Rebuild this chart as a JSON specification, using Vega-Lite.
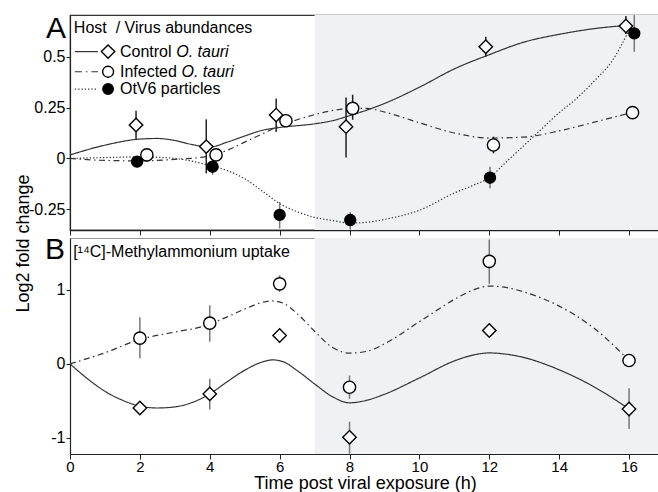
{
  "$schema": "https://vega.github.io/schema/vega-lite/v6.json",
  "padding": {"left": 13, "top": 13, "right": 0, "bottom": 0},
  "background": "white",
  "spacing": 8,
  "bounds": "flush",
  "config": {
    "font": "Liberation Sans",
    "axis": {"labelFont": "Liberation Sans", "titleFont": "Liberation Sans", "labelColor": "black", "titleColor": "black", "domainColor": "#222", "tickColor": "#222", "grid": false, "titleFontWeight": "normal", "labelFlush": false},
    "text": {"font": "Liberation Sans", "color": "black"}
  },
  "datasets": {
    "points": [
      {"panel": "A", "series": "Control", "x": 1.89, "y": 0.164, "lo": 0.095, "hi": 0.234},
      {"panel": "A", "series": "Control", "x": 3.9, "y": 0.058, "lo": -0.074, "hi": 0.192},
      {"panel": "A", "series": "Control", "x": 5.9, "y": 0.213, "lo": 0.13, "hi": 0.295},
      {"panel": "A", "series": "Control", "x": 7.9, "y": 0.156, "lo": 0.005, "hi": 0.3},
      {"panel": "A", "series": "Control", "x": 11.9, "y": 0.549, "lo": 0.5, "hi": 0.598},
      {"panel": "A", "series": "Control", "x": 15.91, "y": 0.651, "lo": 0.612, "hi": 0.7},
      {"panel": "A", "series": "Infected", "x": 2.2, "y": 0.017, "lo": 0.007, "hi": 0.027},
      {"panel": "A", "series": "Infected", "x": 4.18, "y": 0.017, "lo": 0.007, "hi": 0.027},
      {"panel": "A", "series": "Infected", "x": 6.18, "y": 0.185, "lo": 0.175, "hi": 0.195},
      {"panel": "A", "series": "Infected", "x": 8.09, "y": 0.246, "lo": 0.19, "hi": 0.313},
      {"panel": "A", "series": "Infected", "x": 12.12, "y": 0.066, "lo": 0.025, "hi": 0.107},
      {"panel": "A", "series": "Infected", "x": 16.1, "y": 0.225, "lo": 0.215, "hi": 0.235},
      {"panel": "A", "series": "OtV6", "x": 1.92, "y": -0.016, "lo": -0.026, "hi": -0.006},
      {"panel": "A", "series": "OtV6", "x": 4.08, "y": -0.041, "lo": -0.08, "hi": -0.006},
      {"panel": "A", "series": "OtV6", "x": 6.0, "y": -0.278, "lo": -0.344, "hi": -0.213},
      {"panel": "A", "series": "OtV6", "x": 8.02, "y": -0.303, "lo": -0.35, "hi": -0.265},
      {"panel": "A", "series": "OtV6", "x": 12.02, "y": -0.095, "lo": -0.147, "hi": -0.041},
      {"panel": "A", "series": "OtV6", "x": 16.15, "y": 0.615, "lo": 0.524, "hi": 0.705},
      {"panel": "B", "series": "Control", "x": 2, "y": -0.595, "lo": -0.595, "hi": -0.595},
      {"panel": "B", "series": "Control", "x": 4, "y": -0.405, "lo": -0.616, "hi": -0.2},
      {"panel": "B", "series": "Control", "x": 6, "y": 0.384, "lo": 0.384, "hi": 0.384},
      {"panel": "B", "series": "Control", "x": 8, "y": -0.99, "lo": -1.21, "hi": -0.78},
      {"panel": "B", "series": "Control", "x": 12, "y": 0.451, "lo": 0.451, "hi": 0.451},
      {"panel": "B", "series": "Control", "x": 16, "y": -0.608, "lo": -0.88, "hi": -0.33},
      {"panel": "B", "series": "Infected", "x": 2, "y": 0.347, "lo": 0.077, "hi": 0.63},
      {"panel": "B", "series": "Infected", "x": 4, "y": 0.55, "lo": 0.3, "hi": 0.79},
      {"panel": "B", "series": "Infected", "x": 6, "y": 1.08, "lo": 0.97, "hi": 1.195},
      {"panel": "B", "series": "Infected", "x": 8, "y": -0.315, "lo": -0.47, "hi": -0.157},
      {"panel": "B", "series": "Infected", "x": 12, "y": 1.384, "lo": 1.08, "hi": 1.68},
      {"panel": "B", "series": "Infected", "x": 16, "y": 0.046, "lo": 0.046, "hi": 0.046}
    ],
    "curves": [
      {"panel": "A", "series": "Control", "x": 0, "y": 0.017},
      {"panel": "A", "series": "Control", "x": 1, "y": 0.065},
      {"panel": "A", "series": "Control", "x": 2, "y": 0.095},
      {"panel": "A", "series": "Control", "x": 2.5, "y": 0.098},
      {"panel": "A", "series": "Control", "x": 3, "y": 0.088},
      {"panel": "A", "series": "Control", "x": 3.5, "y": 0.068},
      {"panel": "A", "series": "Control", "x": 4, "y": 0.056},
      {"panel": "A", "series": "Control", "x": 4.5, "y": 0.08},
      {"panel": "A", "series": "Control", "x": 5, "y": 0.11},
      {"panel": "A", "series": "Control", "x": 5.5, "y": 0.138},
      {"panel": "A", "series": "Control", "x": 6, "y": 0.152},
      {"panel": "A", "series": "Control", "x": 7, "y": 0.17},
      {"panel": "A", "series": "Control", "x": 7.5, "y": 0.185},
      {"panel": "A", "series": "Control", "x": 8, "y": 0.21},
      {"panel": "A", "series": "Control", "x": 9, "y": 0.27},
      {"panel": "A", "series": "Control", "x": 10, "y": 0.35},
      {"panel": "A", "series": "Control", "x": 11, "y": 0.44},
      {"panel": "A", "series": "Control", "x": 12, "y": 0.51},
      {"panel": "A", "series": "Control", "x": 13, "y": 0.572},
      {"panel": "A", "series": "Control", "x": 14, "y": 0.61},
      {"panel": "A", "series": "Control", "x": 15, "y": 0.638},
      {"panel": "A", "series": "Control", "x": 16, "y": 0.655},
      {"panel": "A", "series": "Infected", "x": 0, "y": 0},
      {"panel": "A", "series": "Infected", "x": 1, "y": -0.01},
      {"panel": "A", "series": "Infected", "x": 2, "y": -0.012},
      {"panel": "A", "series": "Infected", "x": 3, "y": -0.005},
      {"panel": "A", "series": "Infected", "x": 4, "y": 0.012},
      {"panel": "A", "series": "Infected", "x": 4.5, "y": 0.04},
      {"panel": "A", "series": "Infected", "x": 5, "y": 0.08},
      {"panel": "A", "series": "Infected", "x": 5.5, "y": 0.12},
      {"panel": "A", "series": "Infected", "x": 6, "y": 0.16},
      {"panel": "A", "series": "Infected", "x": 6.5, "y": 0.19},
      {"panel": "A", "series": "Infected", "x": 7, "y": 0.215},
      {"panel": "A", "series": "Infected", "x": 7.5, "y": 0.235},
      {"panel": "A", "series": "Infected", "x": 8, "y": 0.245},
      {"panel": "A", "series": "Infected", "x": 8.5, "y": 0.246},
      {"panel": "A", "series": "Infected", "x": 9, "y": 0.228},
      {"panel": "A", "series": "Infected", "x": 10, "y": 0.175},
      {"panel": "A", "series": "Infected", "x": 11, "y": 0.125},
      {"panel": "A", "series": "Infected", "x": 12, "y": 0.1},
      {"panel": "A", "series": "Infected", "x": 13, "y": 0.105},
      {"panel": "A", "series": "Infected", "x": 14, "y": 0.135},
      {"panel": "A", "series": "Infected", "x": 15, "y": 0.178},
      {"panel": "A", "series": "Infected", "x": 16, "y": 0.222},
      {"panel": "A", "series": "OtV6", "x": 0, "y": 0},
      {"panel": "A", "series": "OtV6", "x": 1, "y": 0.004},
      {"panel": "A", "series": "OtV6", "x": 2, "y": 0.008},
      {"panel": "A", "series": "OtV6", "x": 3, "y": 0.0},
      {"panel": "A", "series": "OtV6", "x": 4, "y": -0.035},
      {"panel": "A", "series": "OtV6", "x": 4.5, "y": -0.06},
      {"panel": "A", "series": "OtV6", "x": 5, "y": -0.1},
      {"panel": "A", "series": "OtV6", "x": 5.5, "y": -0.16},
      {"panel": "A", "series": "OtV6", "x": 6, "y": -0.222},
      {"panel": "A", "series": "OtV6", "x": 6.5, "y": -0.262},
      {"panel": "A", "series": "OtV6", "x": 7, "y": -0.29},
      {"panel": "A", "series": "OtV6", "x": 7.5, "y": -0.305},
      {"panel": "A", "series": "OtV6", "x": 8, "y": -0.318},
      {"panel": "A", "series": "OtV6", "x": 8.5, "y": -0.314},
      {"panel": "A", "series": "OtV6", "x": 9, "y": -0.3},
      {"panel": "A", "series": "OtV6", "x": 10, "y": -0.255},
      {"panel": "A", "series": "OtV6", "x": 11, "y": -0.17},
      {"panel": "A", "series": "OtV6", "x": 11.5, "y": -0.135},
      {"panel": "A", "series": "OtV6", "x": 12, "y": -0.095},
      {"panel": "A", "series": "OtV6", "x": 12.5, "y": -0.015},
      {"panel": "A", "series": "OtV6", "x": 13, "y": 0.065},
      {"panel": "A", "series": "OtV6", "x": 13.5, "y": 0.145},
      {"panel": "A", "series": "OtV6", "x": 14, "y": 0.225},
      {"panel": "A", "series": "OtV6", "x": 14.5, "y": 0.295},
      {"panel": "A", "series": "OtV6", "x": 15, "y": 0.38},
      {"panel": "A", "series": "OtV6", "x": 15.5, "y": 0.475},
      {"panel": "A", "series": "OtV6", "x": 16, "y": 0.63},
      {"panel": "B", "series": "Control", "x": 0, "y": 0},
      {"panel": "B", "series": "Control", "x": 0.5, "y": -0.2},
      {"panel": "B", "series": "Control", "x": 1, "y": -0.37},
      {"panel": "B", "series": "Control", "x": 1.5, "y": -0.49},
      {"panel": "B", "series": "Control", "x": 2, "y": -0.57},
      {"panel": "B", "series": "Control", "x": 2.5, "y": -0.595},
      {"panel": "B", "series": "Control", "x": 3, "y": -0.58},
      {"panel": "B", "series": "Control", "x": 3.5, "y": -0.52},
      {"panel": "B", "series": "Control", "x": 4, "y": -0.405},
      {"panel": "B", "series": "Control", "x": 4.5, "y": -0.24},
      {"panel": "B", "series": "Control", "x": 5, "y": -0.085},
      {"panel": "B", "series": "Control", "x": 5.5, "y": 0.025},
      {"panel": "B", "series": "Control", "x": 5.8, "y": 0.054},
      {"panel": "B", "series": "Control", "x": 6.1, "y": 0.03},
      {"panel": "B", "series": "Control", "x": 6.5, "y": -0.09},
      {"panel": "B", "series": "Control", "x": 7, "y": -0.27},
      {"panel": "B", "series": "Control", "x": 7.5, "y": -0.44},
      {"panel": "B", "series": "Control", "x": 8, "y": -0.525},
      {"panel": "B", "series": "Control", "x": 8.5, "y": -0.49},
      {"panel": "B", "series": "Control", "x": 9, "y": -0.41},
      {"panel": "B", "series": "Control", "x": 10, "y": -0.19},
      {"panel": "B", "series": "Control", "x": 11, "y": 0.04},
      {"panel": "B", "series": "Control", "x": 11.5, "y": 0.115},
      {"panel": "B", "series": "Control", "x": 12, "y": 0.148},
      {"panel": "B", "series": "Control", "x": 12.5, "y": 0.13},
      {"panel": "B", "series": "Control", "x": 13, "y": 0.085},
      {"panel": "B", "series": "Control", "x": 14, "y": -0.08},
      {"panel": "B", "series": "Control", "x": 15, "y": -0.31},
      {"panel": "B", "series": "Control", "x": 16, "y": -0.608},
      {"panel": "B", "series": "Infected", "x": 0, "y": 0},
      {"panel": "B", "series": "Infected", "x": 1, "y": 0.15},
      {"panel": "B", "series": "Infected", "x": 2, "y": 0.33},
      {"panel": "B", "series": "Infected", "x": 3, "y": 0.43},
      {"panel": "B", "series": "Infected", "x": 3.75, "y": 0.5},
      {"panel": "B", "series": "Infected", "x": 4, "y": 0.54},
      {"panel": "B", "series": "Infected", "x": 4.5, "y": 0.635},
      {"panel": "B", "series": "Infected", "x": 5, "y": 0.74},
      {"panel": "B", "series": "Infected", "x": 5.5, "y": 0.83},
      {"panel": "B", "series": "Infected", "x": 5.8, "y": 0.85},
      {"panel": "B", "series": "Infected", "x": 6.1, "y": 0.82},
      {"panel": "B", "series": "Infected", "x": 6.5, "y": 0.68},
      {"panel": "B", "series": "Infected", "x": 7, "y": 0.44},
      {"panel": "B", "series": "Infected", "x": 7.5, "y": 0.225},
      {"panel": "B", "series": "Infected", "x": 8, "y": 0.145},
      {"panel": "B", "series": "Infected", "x": 8.5, "y": 0.17},
      {"panel": "B", "series": "Infected", "x": 9, "y": 0.27},
      {"panel": "B", "series": "Infected", "x": 10, "y": 0.57},
      {"panel": "B", "series": "Infected", "x": 11, "y": 0.87},
      {"panel": "B", "series": "Infected", "x": 11.5, "y": 0.99},
      {"panel": "B", "series": "Infected", "x": 12, "y": 1.05},
      {"panel": "B", "series": "Infected", "x": 12.5, "y": 1.03},
      {"panel": "B", "series": "Infected", "x": 13, "y": 0.97},
      {"panel": "B", "series": "Infected", "x": 14, "y": 0.78},
      {"panel": "B", "series": "Infected", "x": 15, "y": 0.48},
      {"panel": "B", "series": "Infected", "x": 16, "y": 0.046}
    ]
  },
  "vconcat": [
    {
      "width": 590,
      "height": 215,
      "view": {"stroke": "#333", "strokeWidth": 1.2},
      "layer": [
        {"data": {"values": [{"k": 1}]}, "mark": {"type": "rect", "color": "#f0f1f3"},
         "encoding": {
           "x": {"datum": 7, "type": "quantitative", "scale": {"domain": [0, 16.886], "nice": false, "zero": false},
                 "axis": {"values": [0, 2, 4, 6, 8, 10, 12, 14, 16], "labels": false, "title": null, "tickSize": 5, "domainWidth": 1.5}},
           "x2": {"datum": 16.886},
           "y": {"datum": -0.352, "type": "quantitative", "scale": {"domain": [-0.352, 0.705], "nice": false, "zero": false},
                 "axis": {"values": [-0.25, 0, 0.25, 0.5], "labelExpr": "datum.value < 0 ? '-' + format(-datum.value, '~g') : format(datum.value, '~g')", "labelFontSize": 16, "tickSize": 4, "labelPadding": 1, "domainWidth": 1.2, "title": "Log2 fold change", "titleFontSize": 18, "titleX": -47, "titleY": 228, "titleAngle": -90, "titleAlign": "center", "titleBaseline": "middle"}},
           "y2": {"datum": 0.705}}},
        {"data": {"name": "curves"}, "transform": [{"filter": "datum.panel === 'A'"}],
         "mark": {"type": "line", "interpolate": "monotone", "color": "#333", "strokeWidth": 1.2},
         "encoding": {"x": {"field": "x", "type": "quantitative"}, "y": {"field": "y", "type": "quantitative"},
           "strokeDash": {"field": "series", "type": "nominal", "legend": null, "scale": {"domain": ["Control", "Infected", "OtV6"], "range": [[1, 0], [6, 3.5, 1.5, 3.5], [1.3, 2]]}}}},
        {"data": {"name": "points"}, "transform": [{"filter": "datum.panel === 'A'"}],
         "mark": {"type": "rule", "strokeWidth": 1.5},
         "encoding": {"x": {"field": "x", "type": "quantitative"}, "y": {"field": "lo", "type": "quantitative"}, "y2": {"field": "hi"},
                      "color": {"field": "series", "type": "nominal", "legend": null, "scale": {"domain": ["Control", "Infected", "OtV6"], "range": ["#222", "#222", "#777"]}}}},
        {"data": {"name": "points"}, "transform": [{"filter": "datum.panel === 'A'"}],
         "mark": {"type": "point", "filled": true, "stroke": "black", "strokeWidth": 1.4, "opacity": 1},
         "encoding": {"x": {"field": "x", "type": "quantitative"}, "y": {"field": "y", "type": "quantitative"},
           "shape": {"field": "series", "type": "nominal", "legend": null, "scale": {"domain": ["Control", "Infected", "OtV6"], "range": ["diamond", "circle", "circle"]}},
           "fill": {"field": "series", "type": "nominal", "legend": null, "scale": {"domain": ["Control", "Infected", "OtV6"], "range": ["white", "white", "black"]}},
           "size": {"field": "series", "type": "nominal", "legend": null, "scale": {"domain": ["Control", "Infected", "OtV6"], "range": [180, 120, 110]}}
         }},
        {"data": {"values": [{"k": 1}]}, "mark": {"type": "rule", "color": "#333", "strokeWidth": 1.2},
         "encoding": {"x": {"datum": 0.14, "type": "quantitative"}, "x2": {"datum": 0.8}, "y": {"datum": 0.525, "type": "quantitative"}}},
        {"data": {"values": [{"k": 1}]}, "mark": {"type": "rule", "color": "#333", "strokeWidth": 1.2, "strokeDash": [7, 4, 1.5, 4]},
         "encoding": {"x": {"datum": 0.14, "type": "quantitative"}, "x2": {"datum": 0.8}, "y": {"datum": 0.426, "type": "quantitative"}}},
        {"data": {"values": [{"k": 1}]}, "mark": {"type": "rule", "color": "#333", "strokeWidth": 1.2, "strokeDash": [1.3, 2]},
         "encoding": {"x": {"datum": 0.14, "type": "quantitative"}, "x2": {"datum": 0.8}, "y": {"datum": 0.341, "type": "quantitative"}}},
        {"data": {"values": [{"k": 1}]}, "mark": {"type": "point", "shape": "diamond", "size": 180, "filled": true, "fill": "white", "stroke": "black", "strokeWidth": 1.4, "opacity": 1},
         "encoding": {"x": {"datum": 1.09, "type": "quantitative"}, "y": {"datum": 0.525, "type": "quantitative"}}},
        {"data": {"values": [{"k": 1}]}, "mark": {"type": "point", "shape": "circle", "size": 120, "filled": true, "fill": "white", "stroke": "black", "strokeWidth": 1.4, "opacity": 1},
         "encoding": {"x": {"datum": 1.09, "type": "quantitative"}, "y": {"datum": 0.426, "type": "quantitative"}}},
        {"data": {"values": [{"k": 1}]}, "mark": {"type": "point", "shape": "circle", "size": 110, "filled": true, "fill": "black", "stroke": "black", "strokeWidth": 1.4, "opacity": 1},
         "encoding": {"x": {"datum": 1.09, "type": "quantitative"}, "y": {"datum": 0.341, "type": "quantitative"}}},
        {"data": {"values": [{"k": 1}]}, "mark": {"type": "text", "text": "Control", "align": "left", "baseline": "middle", "fontSize": 16},
         "encoding": {"x": {"datum": 1.43, "type": "quantitative"}, "y": {"datum": 0.525, "type": "quantitative"}}},
        {"data": {"values": [{"k": 1}]}, "mark": {"type": "text", "text": "O. tauri", "align": "left", "baseline": "middle", "fontSize": 16, "fontStyle": "italic"},
         "encoding": {"x": {"datum": 3.04, "type": "quantitative"}, "y": {"datum": 0.525, "type": "quantitative"}}},
        {"data": {"values": [{"k": 1}]}, "mark": {"type": "text", "text": "Infected", "align": "left", "baseline": "middle", "fontSize": 16},
         "encoding": {"x": {"datum": 1.43, "type": "quantitative"}, "y": {"datum": 0.426, "type": "quantitative"}}},
        {"data": {"values": [{"k": 1}]}, "mark": {"type": "text", "text": "O. tauri", "align": "left", "baseline": "middle", "fontSize": 16, "fontStyle": "italic"},
         "encoding": {"x": {"datum": 3.19, "type": "quantitative"}, "y": {"datum": 0.426, "type": "quantitative"}}},
        {"data": {"values": [{"k": 1}]}, "mark": {"type": "text", "text": "OtV6 particles", "align": "left", "baseline": "middle", "fontSize": 16},
         "encoding": {"x": {"datum": 1.43, "type": "quantitative"}, "y": {"datum": 0.341, "type": "quantitative"}}},
        {"data": {"values": [{"k": 1}]}, "mark": {"type": "text", "text": "Host\u00a0\u00a0/ Virus abundances", "align": "left", "baseline": "alphabetic", "fontSize": 16},
         "encoding": {"x": {"datum": 0.11, "type": "quantitative"}, "y": {"datum": 0.618, "type": "quantitative"}}},
        {"data": {"values": [{"k": 1}]}, "mark": {"type": "text", "text": "A", "align": "center", "baseline": "alphabetic", "fontSize": 30},
         "encoding": {"x": {"datum": -0.4, "type": "quantitative"}, "y": {"datum": 0.59, "type": "quantitative"}}}
      ]
    },
    {
      "width": 590,
      "height": 216,
      "view": {"stroke": "#999", "strokeWidth": 1},
      "layer": [
        {"data": {"values": [{"k": 1}]}, "mark": {"type": "rect", "color": "#f0f1f3"},
         "encoding": {
           "x": {"datum": 7, "type": "quantitative", "scale": {"domain": [0, 16.886], "nice": false, "zero": false},
                 "axis": {"values": [0, 2, 4, 6, 8, 10, 12, 14, 16], "labelFontSize": 15, "labelPadding": 0, "tickSize": 5, "domainWidth": 1.2, "title": "Time post viral exposure (h)", "titleFontSize": 18, "titlePadding": 0}},
           "x2": {"datum": 16.886},
           "y": {"datum": -1.216, "type": "quantitative", "scale": {"domain": [-1.216, 1.699], "nice": false, "zero": false},
                 "axis": {"values": [-1, 0, 1], "labelExpr": "datum.value < 0 ? '-' + format(-datum.value, '~g') : format(datum.value, '~g')", "labelFontSize": 16, "tickSize": 4, "labelPadding": 1, "domainWidth": 1.2, "title": null}},
           "y2": {"datum": 1.699}}},
        {"data": {"name": "curves"}, "transform": [{"filter": "datum.panel === 'B'"}],
         "mark": {"type": "line", "interpolate": "monotone", "color": "#333", "strokeWidth": 1.2},
         "encoding": {"x": {"field": "x", "type": "quantitative"}, "y": {"field": "y", "type": "quantitative"},
           "strokeDash": {"field": "series", "type": "nominal", "legend": null, "scale": {"domain": ["Control", "Infected"], "range": [[1, 0], [6, 3.5, 1.5, 3.5]]}}}},
        {"data": {"name": "points"}, "transform": [{"filter": "datum.panel === 'B'"}],
         "mark": {"type": "rule", "strokeWidth": 1.5, "color": "#777"},
         "encoding": {"x": {"field": "x", "type": "quantitative"}, "y": {"field": "lo", "type": "quantitative"}, "y2": {"field": "hi"}}},
        {"data": {"name": "points"}, "transform": [{"filter": "datum.panel === 'B'"}],
         "mark": {"type": "point", "filled": true, "stroke": "black", "strokeWidth": 1.4, "opacity": 1},
         "encoding": {"x": {"field": "x", "type": "quantitative"}, "y": {"field": "y", "type": "quantitative"},
           "shape": {"field": "series", "type": "nominal", "legend": null, "scale": {"domain": ["Control", "Infected"], "range": ["diamond", "circle"]}},
           "fill": {"field": "series", "type": "nominal", "legend": null, "scale": {"domain": ["Control", "Infected"], "range": ["white", "white"]}},
           "size": {"field": "series", "type": "nominal", "legend": null, "scale": {"domain": ["Control", "Infected"], "range": [180, 120]}}
         }},
        {"data": {"values": [{"k": 1}]}, "mark": {"type": "text", "text": "[¹⁴C]-Methylammonium uptake", "align": "left", "baseline": "alphabetic", "fontSize": 16},
         "encoding": {"x": {"datum": 0.09, "type": "quantitative"}, "y": {"datum": 1.442, "type": "quantitative"}}},
        {"data": {"values": [{"k": 1}]}, "mark": {"type": "text", "text": "B", "align": "center", "baseline": "alphabetic", "fontSize": 30},
         "encoding": {"x": {"datum": -0.43, "type": "quantitative"}, "y": {"datum": 1.415, "type": "quantitative"}}}
      ]
    }
  ]
}
